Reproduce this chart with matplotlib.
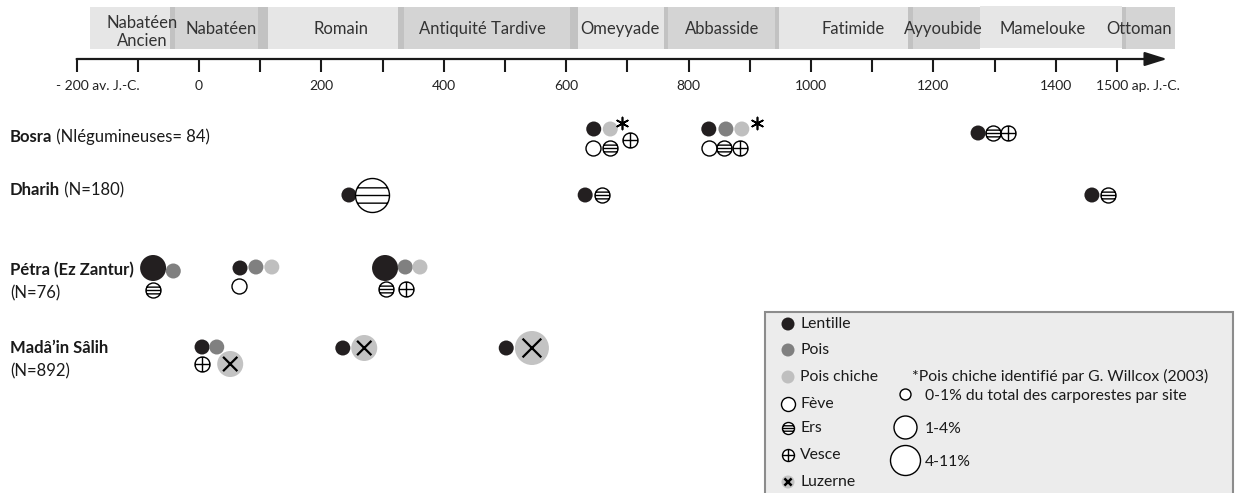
import matplotlib
matplotlib.use("Agg")
import matplotlib.pyplot as plt
from matplotlib.path import Path
from matplotlib.patches import Rectangle
import numpy as np

plt.rcParams['font.family'] = ['Lato', 'DejaVu Sans']

W, H = 1241, 493

# periods along the time axis (years)
periods = ["Nabatéen\nAncien", "Nabatéen", "Romain", "Antiquité Tardive", "Omeyyade",
           "Abbasside", "Fatimide", "Ayyoubide", "Mamelouke", "Ottoman"]
period_start = [-178, -47, 113, 325, 619, 760, 948, 1158, 1276, 1508]
period_end = [-47, 113, 325, 619, 760, 948, 1158, 1276, 1508, 1595]
period_label_x = [-93, 36, 232, 463, 688, 855, 1069, 1217, 1378, 1536]
period_dark = [False, True, False, True, False, True, False, True, False, True]
seam_start = [-47, 96, 325, 606, 760, 941, 1158, 1508]
seam_end = [-39, 113, 335, 619, 766, 948, 1167, 1515]

tick_years = np.arange(-200, 1501, 100)
label_years = [-200, 0, 200, 400, 600, 800, 1000, 1200, 1400, 1500]
label_texts = ["- 200 av. J.-C.", "0", "200", "400", "600", "800", "1000", "1200", "1400",
               "1500 ap. J.-C."]

# sites
site_names = ["Bosra", "Dharih", "Pétra (Ez Zantur)", "Madâ’in Sâlih"]
site_counts = ["(Nlégumineuses= 84)", "(N=180)", "(N=76)", "(N=892)"]
site_count_newline = [False, False, True, True]

# glyphs: year, taxon, size class (1: 0-1 %, 2: 1-4 %, 3: 4-11 %), sub-row offset
bosra_year = [645, 672, 644, 672, 704, 833, 861, 887, 833, 858, 884, 1273, 1297, 1322]
bosra_taxon = ["lentille", "pois chiche", "fève", "ers", "vesce",
               "lentille", "pois", "pois chiche", "fève", "ers", "vesce",
               "lentille", "ers", "vesce"]
bosra_class = [1] * 14
bosra_dy = [0, 0, 19, 19, 11, 0, 0, 0, 19, 19, 19, 4, 4, 4]
bosra_star = [691, 912]

dharih_year = [245, 283, 631, 658, 1459, 1485]
dharih_taxon = ["lentille", "ers", "lentille", "ers", "lentille", "ers"]
dharih_class = [1, 3, 1, 1, 1, 1]
dharih_dy = [0, 0, 0, 0, 0, 0]

petra_year = [-75, -42, -75, 67, 93, 119, 65, 304, 337, 361, 306, 338]
petra_taxon = ["lentille", "pois", "ers",
               "lentille", "pois", "pois chiche", "fève",
               "lentille", "pois", "pois chiche", "ers", "vesce"]
petra_class = [2, 1, 1, 1, 1, 1, 1, 2, 1, 1, 1, 1]
petra_dy = [0, 3, 22, 0, -1, -1, 18, 0, -1, -1, 21, 21]

madain_year = [5, 29, 5, 51, 235, 270, 502, 544]
madain_taxon = ["lentille", "pois", "vesce", "luzerne", "lentille", "luzerne",
                "lentille", "luzerne"]
madain_class = [1, 1, 1, 2, 1, 2, 1, 3]
madain_dy = [0, 0, 17, 17, 1, 1, 1, 1]

site_glyphs = [(bosra_year, bosra_taxon, bosra_class, bosra_dy),
               (dharih_year, dharih_taxon, dharih_class, dharih_dy),
               (petra_year, petra_taxon, petra_class, petra_dy),
               (madain_year, madain_taxon, madain_class, madain_dy)]

# legend
legend_taxa = ["lentille", "pois", "pois chiche", "fève", "ers", "vesce", "luzerne"]
legend_labels = ["Lentille", "Pois", "Pois chiche", "Fève", "Ers", "Vesce", "Luzerne"]
size_labels = ["0-1% du total des carporestes par site", "1-4%", "4-11%"]
footnote = "*Pois chiche identifié par G. Willcox (2003)"

# layout (pixels)
row_y = [129, 195, 268, 347]
label_y = [137, 190, 270, 348]
class_diam = {1: 15, 2: 26, 3: 34}
legend_y = [324, 350, 377, 404, 428, 455, 482]
legend_diam = [13, 13, 13, 14, 12, 12, 13]
size_y = [394, 427, 460]
size_diam = [11, 23, 30]

colors = {"lentille": "#231f20", "pois": "#808080", "pois chiche": "#bfbfbf",
          "luzerne": "#c3c3c3"}

# custom markers
circ = Path.unit_circle()
def chord(y):
    x = np.sqrt(1 - y ** 2)
    return Path([(-x, y), (x, y)], [Path.MOVETO, Path.LINETO])
ers_marker = Path.make_compound_path(circ, chord(-0.45), chord(0.0), chord(0.45))
vesce_marker = Path.make_compound_path(
    circ, Path([(-1, 0), (1, 0)], [Path.MOVETO, Path.LINETO]),
    Path([(0, -1), (0, 1)], [Path.MOVETO, Path.LINETO]))
x_marker = Path([(-1, -1), (1, 1), (-1, 1), (1, -1)],
                [Path.MOVETO, Path.LINETO, Path.MOVETO, Path.LINETO])


def glyph(ax, x, y, taxon, d, lw=1.0, z=3, xw=1.6):
    s = (d * 0.72) ** 2
    if taxon in ("lentille", "pois", "pois chiche"):
        ax.scatter([x], [y], s=s, c=colors[taxon], edgecolors='none', zorder=z)
    elif taxon == "fève":
        ax.scatter([x], [y], s=s, facecolors='white', edgecolors='black', linewidths=lw, zorder=z)
    elif taxon == "ers":
        ax.scatter([x], [y], s=s, marker=ers_marker, facecolors='white',
                   edgecolors='black', linewidths=lw, zorder=z)
    elif taxon == "vesce":
        ax.scatter([x], [y], s=s, marker=vesce_marker, facecolors='white',
                   edgecolors='black', linewidths=lw, zorder=z)
    elif taxon == "luzerne":
        ax.scatter([x], [y], s=s, c=colors[taxon], edgecolors='none', zorder=z)
        ax.scatter([x], [y], s=(0.55 * d * 0.72) ** 2, marker=x_marker, facecolors='none',
                   edgecolors='black', linewidths=xw, zorder=z + 0.1)


fig = plt.figure(figsize=(W / 100, H / 100), dpi=100)
x0 = (0 - 199) / 0.612
x1 = (W - 199) / 0.612
ax = fig.add_axes([0, 0, 1, 1])
ax.set_xlim(x0, x1)
ax.set_ylim(H, 0)
ax.axis('off')

# period bands
for name, a, b, lx, dark in zip(periods, period_start, period_end, period_label_x, period_dark):
    top, bot = (6, 48) if name == "Mamelouke" else (7, 49)
    ax.add_patch(Rectangle((a, top), b - a, bot - top,
                           facecolor='#d4d4d4' if dark else '#e6e6e6', edgecolor='none', zorder=1))
    ax.text(lx, 29 if "\n" not in name else 32, name, ha='center', va='center',
            fontsize=12, color='#333333', linespacing=1.2, zorder=2)
for a, b in zip(seam_start, seam_end):
    ax.add_patch(Rectangle((a, 7), b - a, 42, facecolor='#c2c2c2', edgecolor='none', zorder=1.5))

# time axis
ax.annotate('', xy=(1582, 59), xytext=(-200, 59),
            arrowprops=dict(arrowstyle='-|>,head_length=0.8,head_width=0.25', lw=1.6,
                            color='#1a1a1a', shrinkA=0, shrinkB=0, mutation_scale=17))
ax.vlines(tick_years, 59, 72, color='#1a1a1a', lw=1.5)
for yr, txt in zip(label_years, label_texts):
    if yr == -200:
        ax.text(-233, 86, txt, ha='left', va='center', fontsize=10, color='#222222')
    elif yr == 1500:
        ax.text(1465, 86, txt, ha='left', va='center', fontsize=10, color='#222222')
    else:
        ax.text(yr, 86, txt, ha='center', va='center', fontsize=10, color='#222222')

# glyphs
for (years, taxa, classes, dys), ry in zip(site_glyphs, row_y):
    for yr, tx, cl, dy in zip(years, taxa, classes, dys):
        glyph(ax, yr, ry + dy, tx, class_diam[cl])
ax.scatter(bosra_star, [row_y[0] - 6] * len(bosra_star), s=(12 * 0.72) ** 2,
           marker=(6, 2, 0), color='black', linewidths=1.2, zorder=4)

# layout axes in pixels for labels and legend
lay = fig.add_axes([0, 0, 1, 1], facecolor='none')
lay.set_xlim(0, W)
lay.set_ylim(H, 0)
lay.axis('off')

for name, cnt, ly, nl in zip(site_names, site_counts, label_y, site_count_newline):
    t = lay.text(10, ly, name, fontweight='bold', fontsize=12, va='center', ha='left',
                 color='#1a1a1a')
    if nl:
        lay.text(10, ly + 23, cnt, fontsize=12, va='center', ha='left', color='#1a1a1a')
    else:
        lay.annotate(" " + cnt, xy=(1, 0.5), xycoords=t, va='center', ha='left',
                     fontsize=12, color='#1a1a1a')

# legend box
lay.add_patch(Rectangle((765, 312), 468, 200, facecolor='#ececec', edgecolor='#8c8c8c',
                        lw=1.5, zorder=1))
for tx, lab, ly, d in zip(legend_taxa, legend_labels, legend_y, legend_diam):
    glyph(lay, 788, ly, tx, d, lw=1.0, xw=1.8)
    lay.text(800, ly, lab, fontsize=11.3, va='center', ha='left', color='#1a1a1a', zorder=4)
lay.text(912, 376, footnote, fontsize=11.3, va='center', ha='left', color='#1a1a1a', zorder=4)
for lab, sy, d in zip(size_labels, size_y, size_diam):
    glyph(lay, 905, sy, "fève", d, lw=1.0)
    lay.text(925, sy + 2, lab, fontsize=11.3, va='center', ha='left', color='#1a1a1a', zorder=4)

fig.savefig("out.png", dpi=100)
